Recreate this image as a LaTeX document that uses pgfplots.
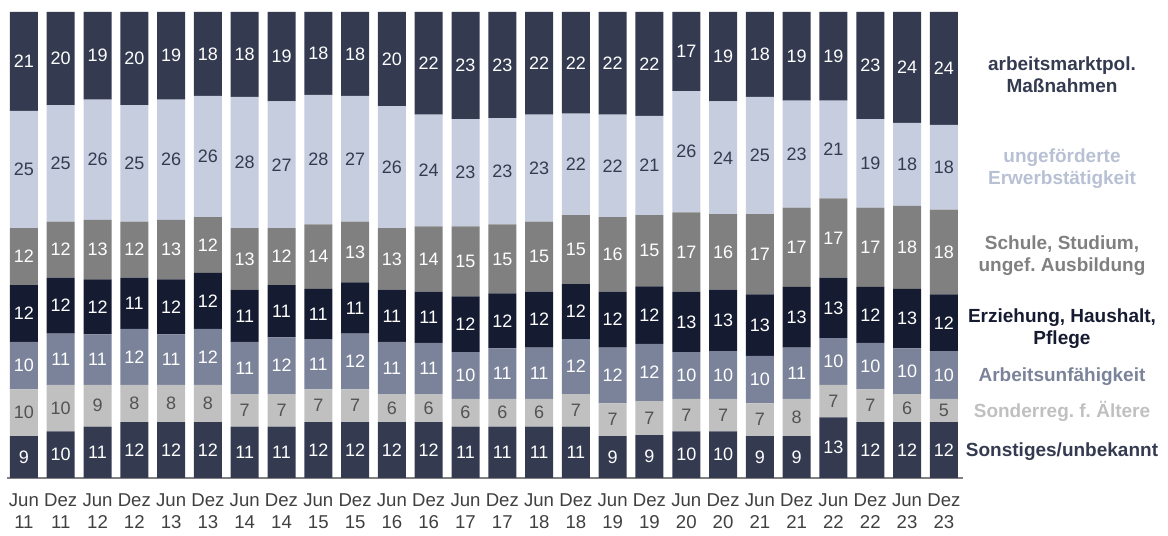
\documentclass[border=0pt]{standalone}
\usepackage{pgfplots}
\usepackage{pgfplotstable}
\pgfplotsset{compat=1.18}
\usepackage{fontspec}
\setmainfont{Liberation Sans}
\frenchspacing
\definecolor{cTop}{HTML}{343B50}
\definecolor{cUng}{HTML}{C6CDDF}
\definecolor{cSch}{HTML}{808080}
\definecolor{cErz}{HTML}{151B30}
\definecolor{cAU}{HTML}{7A8399}
\definecolor{cSon}{HTML}{C0C0C0}
\definecolor{cSoU}{HTML}{343B50}
\definecolor{cUngT}{HTML}{B8C0D4}
\definecolor{cTick}{HTML}{404040}
% a: Sonstiges/unbekannt, b: Sonderreg. f. Aeltere, c: Arbeitsunfaehigkeit,
% d: Erziehung/Haushalt/Pflege, e: Schule/Studium, f: ungef. Erwerbstaetigkeit, g: arbeitsmarktpol. Massnahmen
\pgfplotstableread{
x a b c d e f g
0 9 10 10.2 12.2 12.2 25.2 21.2
1 10 10 11 12 12 25 20
2 11 9 10.8 11.8 12.8 25.8 18.8
3 12 8 12 11 12 25 20
4 12 8 10.8 11.8 12.8 25.8 18.8
5 12 8 12 12 12 26 18
6 11 7 11.2 11.2 13.2 28.2 18.2
7 11 7 12.2 11.2 12.2 27.2 19.2
8 12 7 10.8 10.8 13.8 27.8 17.8
9 12 7 12 11 13 27 18
10 12 6 11.2 11.2 13.2 26.2 20.2
11 12 6 11 11 14 24 22
12 11 6 10 12 15 23 23
13 11 6 10.8 11.8 14.8 22.8 22.8
14 11 6 11 12 15 23 22
15 11 7 11.8 11.8 14.8 21.8 21.8
16 9 7 12 12 16 22 22
17 9.2 7.3 12.3 12.3 15.3 21.3 22.3
18 10 7 10 13 17 26 17
19 10 7 10.2 13.2 16.2 24.2 19.2
20 9 7 10.2 13.2 17.2 25.2 18.2
21 9 8 11 13 17 23 19
22 13 7 10 13 17 21 19
23 12 7 10 12 17 19 23
24 12 6 9.8 12.8 17.8 17.8 23.8
25 12 5 10.2 12.2 18.2 18.2 24.2
}\data
% label positions: middle of each stacked segment
\pgfplotstablecreatecol[create col/expr={\thisrow{a}/2}]{ma}{\data}
\pgfplotstablecreatecol[create col/expr={\thisrow{a}+\thisrow{b}/2}]{mb}{\data}
\pgfplotstablecreatecol[create col/expr={\thisrow{a}+\thisrow{b}+\thisrow{c}/2}]{mc}{\data}
\pgfplotstablecreatecol[create col/expr={\thisrow{a}+\thisrow{b}+\thisrow{c}+\thisrow{d}/2}]{md}{\data}
\pgfplotstablecreatecol[create col/expr={\thisrow{a}+\thisrow{b}+\thisrow{c}+\thisrow{d}+\thisrow{e}/2}]{me}{\data}
\pgfplotstablecreatecol[create col/expr={\thisrow{a}+\thisrow{b}+\thisrow{c}+\thisrow{d}+\thisrow{e}+\thisrow{f}/2}]{mf}{\data}
\pgfplotstablecreatecol[create col/expr={\thisrow{a}+\thisrow{b}+\thisrow{c}+\thisrow{d}+\thisrow{e}+\thisrow{f}+\thisrow{g}/2}]{mg}{\data}
\pgfplotsset{
  base/.style={
    scale only axis,
    width=478pt, height=233pt,
    xmin=-0.46, xmax=25.52,
    ymin=0, ymax=100,
  },
}
\begin{document}
\begin{tikzpicture}
\path (-3.5pt,-26.5pt) rectangle (580.5pt,239pt);
\begin{axis}[
  base,
  ybar stacked,
  bar width=14pt,
  hide y axis,
  axis x line*=bottom,
  x axis line style={draw=cSch, line width=0.8pt},
  xtick=data,
  major tick length=0pt,
  xticklabels={{Jun\\11},{Dez\\11},{Jun\\12},{Dez\\12},{Jun\\13},{Dez\\13},{Jun\\14},{Dez\\14},{Jun\\15},{Dez\\15},{Jun\\16},{Dez\\16},{Jun\\17},{Dez\\17},{Jun\\18},{Dez\\18},{Jun\\19},{Dez\\19},{Jun\\20},{Dez\\20},{Jun\\21},{Dez\\21},{Jun\\22},{Dez\\22},{Jun\\23},{Dez\\23}},
  xticklabel style={align=center, font=\fontsize{9.3}{11}\selectfont, text=cTick, yshift=-4.5pt},
]
\addplot[fill=cSoU, draw=none] table[x=x,y=a]{\data};
\addplot[fill=cSon, draw=none] table[x=x,y=b]{\data};
\addplot[fill=cAU, draw=none] table[x=x,y=c]{\data};
\addplot[fill=cErz, draw=none] table[x=x,y=d]{\data};
\addplot[fill=cSch, draw=none] table[x=x,y=e]{\data};
\addplot[fill=cUng, draw=none] table[x=x,y=f]{\data};
\addplot[fill=cTop, draw=none] table[x=x,y=g]{\data};
\end{axis}
\begin{axis}[
  base,
  axis lines=none,
  /pgf/number format/assume math mode=true,
  point meta=explicit,
  nodes near coords={\pgfmathprintnumber[fixed,precision=0]{\pgfplotspointmeta}},
  every node near coord/.append style={anchor=center, inner sep=0pt, font=\fontsize{9}{10}\selectfont},
]
\addplot[draw=none, mark=none, every node near coord/.append style={text=white}] table[x=x,y=ma,meta=a]{\data};
\addplot[draw=none, mark=none, every node near coord/.append style={text=cTick!90}] table[x=x,y=mb,meta=b]{\data};
\addplot[draw=none, mark=none, every node near coord/.append style={text=white}] table[x=x,y=mc,meta=c]{\data};
\addplot[draw=none, mark=none, every node near coord/.append style={text=white}] table[x=x,y=md,meta=d]{\data};
\addplot[draw=none, mark=none, every node near coord/.append style={text=white}] table[x=x,y=me,meta=e]{\data};
\addplot[draw=none, mark=none, every node near coord/.append style={text=cTop}] table[x=x,y=mf,meta=f]{\data};
\addplot[draw=none, mark=none, every node near coord/.append style={text=white}] table[x=x,y=mg,meta=g]{\data};
\end{axis}
\begin{scope}[every node/.style={align=center, font=\bfseries\fontsize{9.5}{11}\selectfont}]
\node[text=cTop] at (527.5pt,201.5pt) {arbeitsmarktpol.\\Maßnahmen};
\node[text=cUngT] at (527.5pt,154.5pt) {ungeförderte\\Erwerbstätigkeit};
\node[text=cSch] at (527.5pt,111pt) {Schule, Studium,\\ungef. Ausbildung};
\node[text=cErz] at (527.5pt,74.5pt) {Erziehung, Haushalt,\\Pflege};
\node[text=cAU] at (527.5pt,50.5pt) {Arbeitsunfähigkeit};
\node[text=cSon] at (527.5pt,33.5pt) {Sonderreg. f. Ältere};
\node[text=cSoU] at (527.5pt,13pt) {Sonstiges/unbekannt};
\end{scope}
\end{tikzpicture}
\end{document}
